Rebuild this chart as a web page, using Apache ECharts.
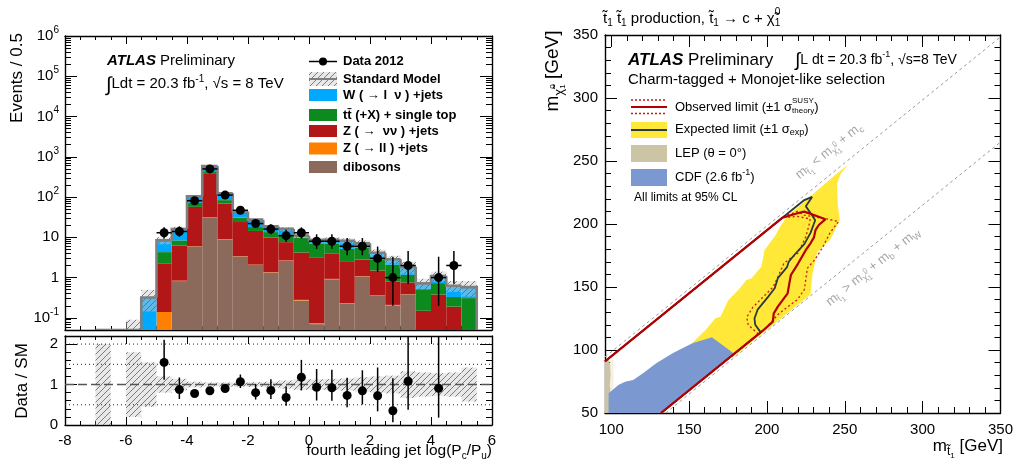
<!DOCTYPE html>
<html>
<head>
<meta charset="utf-8">
<title>Charm tagging and stop limits</title>
<script src="https://cdn.jsdelivr.net/npm/echarts@6.0.0/dist/echarts.min.js"></script>
<style>
  html, body { margin: 0; padding: 0; background: #fff; }
  #chart { width: 1016px; height: 461px; }
</style>
</head>
<body>
<div id="chart"></div>
<script>
// ---------- fourth leading jet flavour discriminant, bins of width 0.5 ----------
const binCenters = [-6.75, -6.25, -5.75, -5.25, -4.75, -4.25, -3.75, -3.25, -2.75, -2.25,
                    -1.75, -1.25, -0.75, -0.25, 0.25, 0.75, 1.25, 1.75, 2.25, 2.75,
                    3.25, 3.75, 4.25, 4.75, 5.25];
const dibosons = [0, 0, 0, 0, 0, 0.82, 5.9, 31, 8.8, 3.35, 2.05, 1.33, 2.6, 0.27, 0.07, 0.91, 0.225, 1.06, 0.35, 0.205, 0.385, 0, 0, 0, 0];
const zllJets  = [0, 0, 0, 0, 0.14, 0.02, 0.1, 0.5, 0.2, 0.05, 0.05, 0.03, 0.06, 0.01, 0.005, 0.02, 0.005, 0.02, 0.01, 0.005, 0.005, 0, 0, 0, 0];
const znnJets  = [0, 0, 0, 0, 2.06, 5.46, 51, 344.5, 60, 20.6, 12.3, 8.44, 4.94, 3.92, 3.125, 2.97, 2.33, 1.72, 1.14, 0.58, 0.37, 0.15, 0.38, 0.19, 0];
const topJets  = [0, 0, 0, 0, 2.1, 2.1, 15, 64, 15, 7, 3.6, 3.7, 3.6, 5.6, 3.7, 3.0, 2.64, 2.7, 1.3, 1.31, 0.41, 0.37, 0.35, 0.14, 0.31];
const wJets    = [0.02, 0, 0.05, 0.32, 4.1, 7.6, 32, 150, 40, 13, 9.5, 5.2, 5.0, 1.2, 1.7, 1.8, 3.0, 1.6, 1.35, 0.75, 0.68, 0.2, 0.37, 0.3, 0.27];
// relative uncertainty on the total Standard Model prediction
const smRelUnc = [1.0, 0, 0.8, 0.55, 0.2, 0.14, 0.07, 0.05, 0.05, 0.05, 0.06, 0.07, 0.1, 0.13, 0.13, 0.14, 0.15, 0.18, 0.2, 0.22, 0.33, 0.3, 0.28, 0.3, 0.42];

// Data 2012 with asymmetric Poisson errors
const dataX       = [-4.75, -4.25, -3.75, -3.25, -2.75, -2.25, -1.75, -1.25, -0.75, -0.25, 0.25, 0.75, 1.25, 1.75, 2.25, 2.75, 3.25, 4.25, 4.75];
const dataCounts  = [13, 14, 81, 500, 112, 47, 22, 16, 11, 13, 8, 8, 6, 6, 3, 1, 2, 1, 2];
const dataErrUp   = [4.7, 4.8, 10.0, 23.4, 11.6, 7.9, 5.8, 5.1, 4.4, 4.7, 3.9, 3.9, 3.6, 3.6, 2.9, 2.3, 2.6, 2.3, 2.6];
const dataErrDown = [3.6, 3.7, 9.0, 22.4, 10.6, 6.8, 4.7, 4.0, 3.3, 3.6, 2.8, 2.8, 2.4, 2.4, 1.6, 0.8, 1.3, 0.8, 1.3];

// tick values
const decadeTicks = [0.1, 1, 10, 100, 1e3, 1e4, 1e5, 1e6];
const ratioTicks  = [0, 1, 2];
const ratioRefLines = [0.5, 1, 1.5, 2];
const massTicks   = [100, 150, 200, 250, 300, 350];

// ---------- stop -> charm + neutralino exclusion plane (m_stop, m_neutralino) [GeV] ----------
const lepRegion = [[96, 50], [96, 92], [98.5, 92], [99.3, 88], [99.6, 80], [99.1, 72], [99.6, 64], [99.2, 56], [99.5, 50]];
const lepHalo   = [[99.3, 50], [99.3, 92], [101.5, 92], [101.5, 50]];
const cdfRegion = [[98.3, 50], [98.3, 65.6], [104.6, 72.2], [108.9, 74.8], [114.1, 76.2], [120.4, 81.5],
                   [128.9, 89.4], [139.4, 97.4], [152.1, 105.3], [164.7, 110.1], [179, 97], [132, 50]];
const expectedBand = [[152, 105.5], [160.6, 115.9], [166.9, 125.2], [170.1, 126.4], [173.2, 134.4], [175.3, 139.7],
                      [181.6, 147.6], [186.9, 155.6], [190.1, 156.9], [196.4, 166.1], [198.5, 179.4], [204.9, 189.9],
                      [209.1, 199.2], [213.3, 206.3], [244, 239], [252, 247], [247.5, 240], [245, 232], [245.5, 215],
                      [246.8, 203], [240.5, 187.3], [232.3, 177.8], [229.1, 159.5], [228, 144], [178, 94]];
const expectedLimit = [[96, 91], [224, 219], [229, 221.5], [225, 214], [229, 207], [231, 203], [228, 193], [224, 184],
                       [218, 176], [214, 170], [213, 166], [207, 157], [205, 149], [200.6, 142], [194, 132], [192, 125],
                       [192.5, 120], [196, 114], [132, 50]];
const observedLimit = [[96, 91], [210, 205], [219.6, 208.5], [223.9, 209.8], [230.2, 207.1], [237.5, 203.7], [233.3, 199.2],
                       [231.2, 195.2], [230.2, 189.4], [228, 184.7], [225, 179.4], [220.1, 168.8], [215.4, 159.5],
                       [214.4, 152.9], [213.3, 145], [207, 134.4], [204.4, 129.1], [203.8, 122.5], [197.5, 115.5], [132, 50]];
const observedTheoryUp = [[96, 91], [211, 206], [219.6, 210], [224, 207], [236.5, 204.5], [246, 202], [240.5, 193], [236, 182],
                          [231, 172], [226, 165], [224, 148], [219.6, 140], [213, 134], [207, 128], [199, 117], [132, 50]];
const observedTheoryDown = [[96, 91], [210, 205], [219.6, 206], [227.8, 204], [227, 199], [225, 190], [220, 177], [211, 169],
                            [207, 158], [204, 150], [197.5, 142], [191, 134], [187, 126], [188, 120], [194.5, 112.5], [132, 50]];
const charmThreshold = [[96, 94.5], [350, 348.5]];   // m_stop = m_chi + m_c
const bwThreshold    = [[135, 50], [350, 265]];      // m_stop = m_chi + m_b + m_W

// ---------- drawing ----------
const FONT = '"Liberation Sans", Arial, Helvetica, sans-serif';
const HALF = 0.25;
const Y_MIN = 0.05, Y_MAX = 1e6;
const COLORS = { dibosons: '#8c6a5b', zll: '#ff7f00', znn: '#b31616', top: '#0c8a1d', w: '#00a9ff',
                 sm: '#7f7f7f', red: '#b30000', redDot: '#d01515', expected: '#2b3a3a',
                 yellow: '#ffe838', lep: '#cbc5a5', cdf: '#7b99d0', guide: '#9a9a9a' };

function makeHatch(bg, line) {
  const c = document.createElement('canvas');
  c.width = 6; c.height = 6;
  const g = c.getContext('2d');
  g.fillStyle = bg; g.fillRect(0, 0, 6, 6);
  g.strokeStyle = line; g.lineWidth = 1;
  g.beginPath();
  g.moveTo(0, 6); g.lineTo(6, 0);
  g.moveTo(-1, 1); g.lineTo(1, -1);
  g.moveTo(5, 7); g.lineTo(7, 5);
  g.stroke();
  return { image: c, repeat: 'repeat' };
}
const HATCH = makeHatch('rgba(205,205,205,0.45)', 'rgba(105,105,105,0.85)');

// stacked components, bottom to top
const components = [
  { values: dibosons, color: COLORS.dibosons },
  { values: zllJets, color: COLORS.zll },
  { values: znnJets, color: COLORS.znn },
  { values: topJets, color: COLORS.top },
  { values: wJets, color: COLORS.w },
];
let running = binCenters.map(() => 0);
components.forEach(c => {
  c.lower = running.slice();
  running = running.map((v, i) => v + c.values[i]);
  c.upper = running.slice();
});
const smTotal = running;

function deepMerge(a, b) {
  const out = Array.isArray(a) ? a.slice() : Object.assign({}, a);
  Object.keys(b || {}).forEach(k => {
    const v = b[k];
    if (v && typeof v === 'object' && !Array.isArray(v) && typeof out[k] === 'object' && out[k] && !Array.isArray(out[k])) out[k] = deepMerge(out[k], v);
    else out[k] = v;
  });
  return out;
}
const AXIS_BASE = {
  type: 'value',
  axisLine: { show: true, onZero: false, lineStyle: { color: '#000', width: 1.4 } },
  axisTick: { show: true, inside: true, length: 8, lineStyle: { color: '#000', width: 1 } },
  minorTick: { show: false },
  axisLabel: { show: false, color: '#000', fontSize: 15, fontFamily: FONT },
  splitLine: { show: false },
  minorSplitLine: { show: false },
};
const ax = o => deepMerge(AXIS_BASE, o);

// minor tick positions
const logMinor = [];
[0.01].concat(decadeTicks.slice(0, -1)).forEach(d => {
  for (let k = 2; k <= 9; k++) {
    const v = +(d * k).toPrecision(3);
    if (v > Y_MIN && v < Y_MAX) logMinor.push(v);
  }
});
const ratioMinor = [0.2, 0.4, 0.6, 0.8, 1.2, 1.4, 1.6, 1.8];
const massMinor = [];
for (let m = 100; m < 350; m += 10) if (m % 50 !== 0) massMinor.push(m);

function fmtDecade(v) {
  const e = Math.log10(v), n = Math.round(e);
  if (Math.abs(e - n) > 1e-6 || !decadeTicks.some(d => Math.abs(Math.log10(d) - n) < 1e-6)) return '';
  if (n === 0) return '{b|1}';
  if (n === 1) return '{b|10}';
  return '{b|10}{s|' + n + '}';
}

// text runs with sub/superscripts laid out piece by piece
const measureCtx = document.createElement('canvas').getContext('2d');
function textWidth(t, font) { measureCtx.font = font; return measureCtx.measureText(t).width; }
function textRun(parts, o) {
  const kids = [];
  let cx = 0, stackW = 0;
  parts.forEach(p0 => {
    const p = typeof p0 === 'string' ? { text: p0 } : p0;
    const size = p.size || o.size;
    const font = (p.style || o.style || 'normal') + ' ' + (p.weight || o.weight || 'normal') + ' ' + size + 'px ' + FONT;
    const w = textWidth(p.text, font);
    kids.push({ type: 'text', x: cx, y: p.dy || 0, silent: true,
      style: { text: p.text, font, fill: p.color || o.color || '#000',
               align: 'left', textAlign: 'left', verticalAlign: 'middle', textVerticalAlign: 'middle' } });
    if (p.stack) stackW = Math.max(stackW, w);
    else { cx += Math.max(w, stackW); stackW = 0; }
  });
  const shift = o.align === 'right' ? -cx : o.align === 'center' ? -cx / 2 : 0;
  kids.forEach(k => { k.x += shift; });
  return { type: 'group', x: o.x, y: o.y, rotation: o.rotation || 0, silent: true, children: kids };
}
const rect = (x, y, w, h, fill) => ({ type: 'rect', shape: { x, y, width: w, height: h }, style: { fill }, silent: true });
const hline = (x1, x2, y, stroke, width, dash) => ({ type: 'line', shape: { x1, y1: y, x2, y2: y }, silent: true,
  style: { stroke, lineWidth: width, lineDash: dash || null } });

// ---------- series ----------
const series = [];

// stacked backgrounds
components.forEach(c => {
  series.push({
    type: 'custom', xAxisIndex: 0, yAxisIndex: 0, clip: true, silent: true,
    data: binCenters.map((x, i) => [x, c.lower[i], c.upper[i]]),
    renderItem(params, api) {
      const x = api.value(0), lo = api.value(1), hi = api.value(2);
      if (!(hi > lo) || hi <= Y_MIN) return;
      const a = api.coord([x - HALF, Math.max(lo, Y_MIN)]);
      const b = api.coord([x + HALF, hi]);
      return { type: 'rect', shape: { x: a[0], y: b[1], width: b[0] - a[0], height: a[1] - b[1] }, style: { fill: c.color } };
    },
  });
});
// SM uncertainty band
series.push({
  type: 'custom', xAxisIndex: 0, yAxisIndex: 0, clip: true, silent: true,
  data: binCenters.map((x, i) => [x, smTotal[i] * (1 - smRelUnc[i]), smTotal[i] * (1 + smRelUnc[i])]),
  renderItem(params, api) {
    const x = api.value(0), lo = api.value(1), hi = api.value(2);
    if (!(hi > lo) || hi <= Y_MIN) return;
    const a = api.coord([x - HALF, Math.max(lo, Y_MIN)]);
    const b = api.coord([x + HALF, hi]);
    return { type: 'rect', shape: { x: a[0], y: b[1], width: b[0] - a[0], height: a[1] - b[1] }, style: { fill: HATCH } };
  },
});
// SM total outline
series.push({
  type: 'custom', xAxisIndex: 0, yAxisIndex: 0, clip: true, silent: true,
  data: binCenters.map((x, i) => [x, smTotal[i]]),
  renderItem(params, api) {
    const i = params.dataIndex;
    const x = api.value(0);
    const v = Math.max(api.value(1), Y_MIN);
    const prev = i > 0 ? Math.max(smTotal[i - 1], Y_MIN) : Y_MIN;
    const pts = [api.coord([x - HALF, prev]), api.coord([x - HALF, v]), api.coord([x + HALF, v])];
    if (i === binCenters.length - 1) pts.push(api.coord([x + HALF, Y_MIN]));
    return { type: 'polyline', shape: { points: pts }, style: { stroke: COLORS.sm, lineWidth: 2.6, fill: null } };
  },
});
// data points
series.push({
  type: 'custom', xAxisIndex: 0, yAxisIndex: 0, clip: true, silent: true,
  data: dataX.map((x, i) => [x, dataCounts[i], dataErrUp[i], dataErrDown[i]]),
  renderItem(params, api) {
    const x = api.value(0), n = api.value(1), up = api.value(2), dn = api.value(3);
    const c = api.coord([x, n]);
    const t = api.coord([x, n + up]);
    const b = api.coord([x, Math.max(n - dn, Y_MIN)]);
    const l = api.coord([x - HALF, n]), r = api.coord([x + HALF, n]);
    const st = { stroke: '#000', lineWidth: 1.5 };
    return { type: 'group', children: [
      { type: 'line', shape: { x1: t[0], y1: t[1], x2: b[0], y2: b[1] }, style: st },
      { type: 'line', shape: { x1: l[0], y1: l[1], x2: r[0], y2: r[1] }, style: st },
      { type: 'circle', shape: { cx: c[0], cy: c[1], r: 4.5 }, style: { fill: '#000' } },
    ] };
  },
});

// ratio panel: SM band
series.push({
  type: 'custom', xAxisIndex: 2, yAxisIndex: 4, clip: true, silent: true,
  data: binCenters.map((x, i) => [x, 1 - smRelUnc[i], 1 + smRelUnc[i]]),
  renderItem(params, api) {
    const x = api.value(0), lo = api.value(1), hi = api.value(2);
    if (!(hi > lo)) return;
    const a = api.coord([x - HALF, lo]);
    const b = api.coord([x + HALF, hi]);
    return { type: 'rect', shape: { x: a[0], y: b[1], width: b[0] - a[0], height: a[1] - b[1] }, style: { fill: HATCH } };
  },
});
// ratio reference lines
series.push({
  type: 'custom', xAxisIndex: 2, yAxisIndex: 4, clip: true, silent: true,
  data: ratioRefLines.map(v => [0, v]),
  renderItem(params, api) {
    const v = api.value(1);
    const cs = params.coordSys;
    const y = api.coord([0, v])[1];
    const unity = Math.abs(v - 1) < 1e-9;
    return { type: 'line', shape: { x1: cs.x, y1: y, x2: cs.x + cs.width, y2: y },
      style: { stroke: unity ? '#555' : '#222', lineWidth: unity ? 1.5 : 1, lineDash: unity ? [9, 4] : [1, 3] } };
  },
});
// ratio data / SM
series.push({
  type: 'custom', xAxisIndex: 2, yAxisIndex: 4, clip: true, silent: true,
  data: dataX.map((x, i) => {
    const sm = smTotal[binCenters.indexOf(x)];
    return [x, dataCounts[i] / sm, dataErrUp[i] / sm, dataErrDown[i] / sm];
  }),
  renderItem(params, api) {
    const x = api.value(0), r = api.value(1), up = api.value(2), dn = api.value(3);
    if (r > 2.2) return;
    const c = api.coord([x, r]);
    const t = api.coord([x, r + up]);
    const b = api.coord([x, Math.max(r - dn, 0)]);
    return { type: 'group', children: [
      { type: 'line', shape: { x1: t[0], y1: t[1], x2: b[0], y2: b[1] }, style: { stroke: '#000', lineWidth: 1.5 } },
      { type: 'circle', shape: { cx: c[0], cy: c[1], r: 4.5 }, style: { fill: '#000' } },
    ] };
  },
});

// exclusion plane
function regionSeries(points, fill) {
  return {
    type: 'custom', xAxisIndex: 4, yAxisIndex: 8, clip: true, silent: true, data: points,
    renderItem(params, api) {
      if (params.dataIndex !== 0) return;
      return { type: 'polygon', shape: { points: points.map(p => api.coord(p)) }, style: { fill } };
    },
  };
}
function curveSeries(points, color, width, dash) {
  return { type: 'line', xAxisIndex: 4, yAxisIndex: 8, data: points, symbol: 'none', showSymbol: false,
           clip: true, silent: true, lineStyle: { color, width, type: dash || 'solid' } };
}
series.push(regionSeries(expectedBand, COLORS.yellow));
series.push(regionSeries(lepHalo, '#f5f2e2'));
series.push(regionSeries(lepRegion, COLORS.lep));
series.push(regionSeries(cdfRegion, COLORS.cdf));
series.push(curveSeries(charmThreshold, COLORS.guide, 1, [3, 3]));
series.push(curveSeries(bwThreshold, COLORS.guide, 1, [3, 3]));
series.push(curveSeries(observedTheoryUp, COLORS.redDot, 1.3, [2, 2.5]));
series.push(curveSeries(observedTheoryDown, COLORS.redDot, 1.3, [2, 2.5]));
series.push(curveSeries(expectedLimit, COLORS.expected, 1.8));
series.push(curveSeries(observedLimit, COLORS.red, 2.2));

// ---------- axes ----------
const logMajor = { type: 'log', logBase: 10, min: Y_MIN, max: Y_MAX, gridIndex: 0 };
const binAxis = { min: -8, max: 6, interval: 2, minorTick: { show: true, splitNumber: 4, length: 4, lineStyle: { color: '#000' } } };
const massAxis = { min: 96, max: 350, gridIndex: 2 };

const xAxis = [
  ax(Object.assign({ gridIndex: 0, position: 'bottom' }, binAxis)),
  ax(Object.assign({ gridIndex: 0, position: 'top' }, binAxis)),
  ax(deepMerge(Object.assign({ gridIndex: 1, position: 'bottom' }, binAxis),
     { axisLabel: { show: true, margin: 8, formatter: v => String(v) } })),
  ax(Object.assign({ gridIndex: 1, position: 'top' }, binAxis)),
  ax(deepMerge(massAxis, { position: 'bottom', axisTick: { length: 12, customValues: massTicks },
     axisLabel: { show: true, margin: 9, customValues: massTicks } })),
  ax(deepMerge(massAxis, { position: 'bottom', axisLine: { show: false }, axisTick: { length: 6, customValues: massMinor } })),
  ax(deepMerge(massAxis, { position: 'top', axisTick: { length: 12, customValues: massTicks } })),
  ax(deepMerge(massAxis, { position: 'top', axisLine: { show: false }, axisTick: { length: 6, customValues: massMinor } })),
];
const ratioAxis = { gridIndex: 1, min: 0, max: 2.2 };
const yAxis = [
  ax(deepMerge(logMajor, { position: 'left', axisTick: { length: 12 },
     axisLabel: { show: true, margin: 6, formatter: fmtDecade,
       rich: { b: { fontSize: 15, fontFamily: FONT, color: '#000', lineHeight: 22 },
               s: { fontSize: 10, fontFamily: FONT, color: '#000', lineHeight: 10, verticalAlign: 'top' } } } })),
  ax(deepMerge(logMajor, { position: 'left', axisLine: { show: false }, axisTick: { length: 6, customValues: logMinor } })),
  ax(deepMerge(logMajor, { position: 'right', axisTick: { length: 12 } })),
  ax(deepMerge(logMajor, { position: 'right', axisLine: { show: false }, axisTick: { length: 6, customValues: logMinor } })),
  ax(deepMerge(ratioAxis, { position: 'left', axisTick: { length: 12, customValues: ratioTicks },
     axisLabel: { show: true, margin: 7, customValues: ratioTicks } })),
  ax(deepMerge(ratioAxis, { position: 'left', axisLine: { show: false }, axisTick: { length: 6, customValues: ratioMinor } })),
  ax(deepMerge(ratioAxis, { position: 'right', axisTick: { length: 12, customValues: ratioTicks } })),
  ax(deepMerge(ratioAxis, { position: 'right', axisLine: { show: false }, axisTick: { length: 6, customValues: ratioMinor } })),
  ax({ gridIndex: 2, position: 'left', min: 50, max: 350, interval: 50, axisTick: { length: 12 },
       minorTick: { show: true, splitNumber: 5, length: 6, lineStyle: { color: '#000' } },
       axisLabel: { show: true, margin: 7 } }),
  ax({ gridIndex: 2, position: 'right', min: 50, max: 350, interval: 50, axisTick: { length: 12 },
       minorTick: { show: true, splitNumber: 5, length: 6, lineStyle: { color: '#000' } } }),
];

// ---------- annotations ----------
const sub = (t, size, dy) => ({ text: t, size, dy });
const graphics = [];
// left panel
graphics.push(textRun([{ text: 'ATLAS', weight: 'bold', style: 'italic' }, ' Preliminary'], { x: 107, y: 61, size: 15 }));
graphics.push(textRun([{ text: '\u222B', size: 20, dy: 1 }, 'Ldt = 20.3 fb', sub('-1', 10, -5), ', \u221As = 8 TeV'], { x: 106, y: 84, size: 15 }));
graphics.push(textRun(['Events / 0.5'], { x: 17, y: 78, size: 17, align: 'center', rotation: Math.PI / 2 }));
graphics.push(textRun(['Data / SM'], { x: 22, y: 381, size: 17, align: 'center', rotation: Math.PI / 2 }));
graphics.push(textRun(['fourth leading jet log(P', sub('c', 10, 5), '/P', sub('u', 10, 5), ')'], { x: 492, y: 451, size: 15.5, align: 'right' }));
// left legend
graphics.push(hline(309, 337, 61.5, '#000', 1.5));
graphics.push({ type: 'circle', shape: { cx: 323, cy: 61.5, r: 4 }, style: { fill: '#000' }, silent: true });
graphics.push(rect(309, 72, 28, 14, HATCH));
graphics.push(hline(309, 337, 79, COLORS.sm, 2));
graphics.push(rect(309, 89, 28, 12, COLORS.w));
graphics.push(rect(309, 109, 28, 12, COLORS.top));
graphics.push(rect(309, 125, 28, 12, COLORS.znn));
graphics.push(rect(309, 142.5, 28, 12, COLORS.zll));
graphics.push(rect(309, 161, 28, 12, COLORS.dibosons));
const legL = { x: 343, size: 13, weight: 'bold' };
graphics.push(textRun(['Data 2012'], Object.assign({ y: 61.5 }, legL)));
graphics.push(textRun(['Standard Model'], Object.assign({ y: 79 }, legL)));
graphics.push(textRun(['W ( \u2192 l  \u03BD ) +jets'], Object.assign({ y: 95 }, legL)));
graphics.push(textRun(['tt\u0304 (+X) + single top'], Object.assign({ y: 115 }, legL)));
graphics.push(textRun(['Z ( \u2192  \u03BD\u03BD ) +jets'], Object.assign({ y: 131 }, legL)));
graphics.push(textRun(['Z ( \u2192 ll ) +jets'], Object.assign({ y: 148.5 }, legL)));
graphics.push(textRun(['dibosons'], Object.assign({ y: 167 }, legL)));

// right panel
graphics.push(textRun(['t\u0303', sub('1', 10, 4), ' t\u0303', sub('1', 10, 4), ' production, t\u0303', sub('1', 10, 4),
  ' \u2192 c + \u03C7\u0303', { text: '0', size: 10, dy: -7, stack: true }, sub('1', 10, 4)], { x: 603, y: 19, size: 15 }));
graphics.push(textRun(['m', sub('\u03C7\u0303', 13, 6), { text: '0', size: 8, dy: 0, stack: true }, sub('1', 8, 10), ' [GeV]'],
  { x: 553, y: 71, size: 19, align: 'center', rotation: Math.PI / 2 }));
graphics.push(textRun(['m', sub('t\u0303', 12, 6), sub('1', 8, 10), ' [GeV]'], { x: 1003, y: 446, size: 17, align: 'right' }));
graphics.push(textRun([{ text: 'ATLAS', weight: 'bold', style: 'italic' }, ' Preliminary'], { x: 628, y: 60, size: 17 }));
graphics.push(textRun([{ text: '\u222B', size: 19, dy: 1 }, 'L dt = 20.3 fb', sub('-1', 9, -5), ', \u221As=8 TeV'], { x: 795, y: 60, size: 14 }));
graphics.push(textRun(['Charm-tagged + Monojet-like selection'], { x: 628, y: 80, size: 15 }));
// right legend
graphics.push(hline(631, 667, 100, COLORS.redDot, 1.3, [2, 2]));
graphics.push(hline(631, 667, 107, COLORS.red, 2.2));
graphics.push(hline(631, 667, 113.5, COLORS.redDot, 1.3, [2, 2]));
graphics.push(rect(631, 122, 36, 16, COLORS.yellow));
graphics.push(hline(631, 667, 130, COLORS.expected, 1.8));
graphics.push(rect(631, 145, 36, 17, COLORS.lep));
graphics.push(rect(631, 169, 36, 17, COLORS.cdf));
const legR = { x: 675, size: 13 };
graphics.push(textRun(['Observed limit (\u00B11 \u03C3', { text: 'SUSY', size: 8, dy: -6, stack: true }, sub('theory', 8, 4), ')'],
  Object.assign({ y: 107 }, legR)));
graphics.push(textRun(['Expected limit (\u00B11 \u03C3', sub('exp', 9, 4), ')'], Object.assign({ y: 129 }, legR)));
graphics.push(textRun(['LEP (\u03B8 = 0\u00B0)'], Object.assign({ y: 153.5 }, legR)));
graphics.push(textRun(['CDF (2.6 fb', sub('-1', 9, -5), ')'], Object.assign({ y: 177.5 }, legR)));
graphics.push(textRun(['All limits at 95% CL'], { x: 634, y: 198, size: 12 }));
// kinematic boundary labels
const slope = Math.atan((1.26) / (399 / 254));
graphics.push(textRun(['m', sub('t\u0303', 9, 4), sub('1', 7, 7), ' < m', sub('\u03C7\u0303', 9, 4), { text: '0', size: 7, dy: -2, stack: true },
  sub('1', 7, 7), ' + m', sub('c', 9, 4)], { x: 829, y: 151, size: 13, color: '#a6a6a6', align: 'center', rotation: slope }));
graphics.push(textRun(['m', sub('t\u0303', 9, 4), sub('1', 7, 7), ' > m', sub('\u03C7\u0303', 9, 4), { text: '0', size: 7, dy: -2, stack: true },
  sub('1', 7, 7), ' + m', sub('b', 9, 4), ' + m', sub('W', 9, 4)], { x: 873, y: 267, size: 13, color: '#a6a6a6', align: 'center', rotation: slope }));

const chart = echarts.init(document.getElementById('chart'), null, { renderer: 'canvas' });
chart.setOption({
  animation: false,
  backgroundColor: '#fff',
  textStyle: { fontFamily: FONT },
  grid: [
    { left: 65, top: 36, width: 427, height: 294 },
    { left: 65, top: 336, width: 427, height: 89 },
    { left: 605, top: 35, width: 399, height: 378 },
  ],
  xAxis, yAxis, series,
  graphic: { elements: graphics },
});
</script>
</body>
</html>
